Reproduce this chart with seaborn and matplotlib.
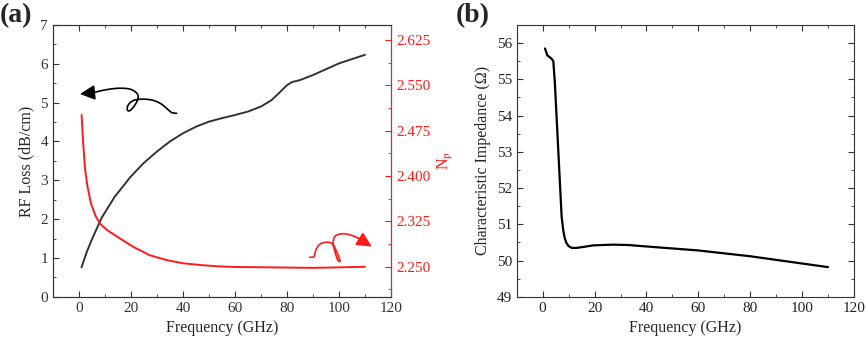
import numpy as np
import pandas as pd
import matplotlib
matplotlib.use("Agg")
import matplotlib.pyplot as plt
import seaborn as sns
from matplotlib.ticker import MultipleLocator

#---- data ----|

# panel (a): RF loss (left axis) and Np (right axis) vs frequency
freq_loss = [1, 3, 5, 8.7, 13.8, 20, 25, 30, 35, 40, 45, 50, 55, 60, 65, 70, 74, 77, 80, 82, 85, 90, 95, 100, 105, 110]
rf_loss = [0.76, 1.15, 1.48, 2.03, 2.58, 3.1, 3.45, 3.74, 4.0, 4.21, 4.38, 4.51, 4.6, 4.68, 4.77, 4.9, 5.06, 5.25, 5.45, 5.53, 5.58, 5.71, 5.86, 6.01, 6.12, 6.23]

freq_np = [1.04, 1.65, 2.4, 3.3, 4.6, 6.5, 8.4, 11.0, 15.7, 20.8, 27.2, 33.6, 40, 46.4, 53.4, 60, 70, 80, 90, 100, 110]
np_vals = [2.501, 2.454, 2.410, 2.383, 2.355, 2.333, 2.320, 2.310, 2.297, 2.283, 2.269, 2.261, 2.2556, 2.2528, 2.2505, 2.2495, 2.249, 2.2485, 2.248, 2.2488, 2.2498]

# panel (b): characteristic impedance vs frequency
freq_z = [0.9, 1.8, 3.4, 4.1, 4.7, 6.0, 7.3, 7.9, 8.5, 9.2, 10, 11.2, 13, 16, 19.5, 27, 33, 40, 60, 80, 110]
imp_z = [55.85, 55.66, 55.57, 55.50, 54.9, 53.06, 51.22, 50.85, 50.62, 50.48, 50.4, 50.35, 50.35, 50.38, 50.42, 50.44, 50.43, 50.39, 50.28, 50.12, 49.82]

# hand-drawn curly arrows (annotation only), in axes-fraction coords of panel (a)
black_arrow_x = [0.366, 0.351, 0.336, 0.317, 0.292, 0.262, 0.238, 0.223, 0.220, 0.228, 0.243, 0.252, 0.248, 0.228, 0.193, 0.154, 0.119]
black_arrow_y = [0.675, 0.678, 0.694, 0.712, 0.724, 0.727, 0.722, 0.706, 0.688, 0.685, 0.706, 0.731, 0.749, 0.764, 0.767, 0.761, 0.751]
black_tip = (0.080, 0.746)
red_arrow_x = [0.760, 0.772, 0.778, 0.790, 0.810, 0.826, 0.837, 0.847, 0.849, 0.842, 0.834, 0.829, 0.834, 0.854, 0.879, 0.903]
red_arrow_y = [0.146, 0.148, 0.173, 0.194, 0.201, 0.195, 0.173, 0.142, 0.130, 0.136, 0.167, 0.197, 0.222, 0.232, 0.228, 0.216]
red_tip = (0.943, 0.185)


def smooth(xs, ys, n=20):
    # catmull-rom through the sketch points so the squiggle looks hand drawn
    p = np.column_stack([xs, ys])
    p = np.vstack([p[0], p, p[-1]])
    out = []
    for i in range(1, len(p) - 2):
        p0, p1, p2, p3 = p[i - 1], p[i], p[i + 1], p[i + 2]
        for t in np.linspace(0, 1, n, endpoint=False):
            t2, t3 = t * t, t * t * t
            out.append(0.5 * ((2 * p1) + (-p0 + p2) * t + (2 * p0 - 5 * p1 + 4 * p2 - p3) * t2 + (-p0 + 3 * p1 - 3 * p2 + p3) * t3))
    out.append(p[-2])
    out = np.array(out)
    return out[:, 0], out[:, 1]


sns.set_style("ticks")
plt.rcParams['font.family'] = ['Liberation Serif', 'DejaVu Serif']
plt.rcParams['mathtext.fontset'] = 'stix'
plt.rcParams['xtick.direction'] = 'in'
plt.rcParams['ytick.direction'] = 'in'
plt.rcParams['font.size'] = 11

fig = plt.figure(figsize=(8.67, 3.46), dpi=100)
ax1 = fig.add_axes([0.061, 0.142, 0.390, 0.786])
ax2 = fig.add_axes([0.596, 0.142, 0.389, 0.786])

red = '#ff1a1a'
ax_color = '#333333'
head = '-|>,head_length=0.6,head_width=0.3'

#---- panel (a) ----|
df_loss = pd.DataFrame({'f': freq_loss, 'loss': rf_loss})
sns.lineplot(data=df_loss, x='f', y='loss', ax=ax1, color='#333333', lw=1.4)
ax1.set_xlim(-10, 120)
ax1.set_ylim(0, 7)
ax1.set_xlabel('Frequency (GHz)', fontsize=11.5)
ax1.set_ylabel('RF Loss (dB/cm)', fontsize=11.5, labelpad=4)
ax1.xaxis.set_major_locator(MultipleLocator(20))
ax1.xaxis.set_minor_locator(MultipleLocator(10))
ax1.yaxis.set_major_locator(MultipleLocator(1))
ax1.yaxis.set_minor_locator(MultipleLocator(0.5))
ax1.tick_params(which='both', top=True, right=False, labelsize=11, color=ax_color, labelcolor='#333333')
ax1.tick_params(which='major', length=4)
ax1.tick_params(which='minor', length=2.5)

bx, by = smooth(black_arrow_x, black_arrow_y)
ax1.plot(bx, by, color='black', lw=1.2, transform=ax1.transAxes)
ax1.annotate('', xy=black_tip, xytext=(black_arrow_x[-1], black_arrow_y[-1]),
             xycoords='axes fraction', textcoords='axes fraction',
             arrowprops=dict(arrowstyle=head, mutation_scale=15, color='black', lw=1.2, shrinkA=0, shrinkB=0))

rx, ry = smooth(red_arrow_x, red_arrow_y)
ax1.plot(rx, ry, color=red, lw=1.2, transform=ax1.transAxes)
ax1.annotate('', xy=red_tip, xytext=(red_arrow_x[-1], red_arrow_y[-1]),
             xycoords='axes fraction', textcoords='axes fraction',
             arrowprops=dict(arrowstyle=head, mutation_scale=15, color=red, lw=1.2, shrinkA=0, shrinkB=0))

ax1r = ax1.twinx()
df_np = pd.DataFrame({'f': freq_np, 'np': np_vals})
sns.lineplot(data=df_np, x='f', y='np', ax=ax1r, color=red, lw=1.4)
ax1r.set_ylim(2.2, 2.65)
ax1r.yaxis.set_minor_locator(MultipleLocator(0.0375))
ax1r.set_yticks([2.25, 2.325, 2.4, 2.475, 2.55, 2.625])
ax1r.set_yticklabels(['2.250', '2.325', '2.400', '2.475', '2.550', '2.625'])
ax1r.set_ylabel('N$_\\mathrm{p}$', color=red, fontsize=11.5, labelpad=4)
ax1r.tick_params(which='both', colors=red, labelsize=11, direction='in')
ax1r.tick_params(which='major', length=4)
ax1r.tick_params(which='minor', length=2.5)
for s in ax1.spines.values():
    s.set_color(ax_color)
for s in ['left', 'top', 'bottom']:
    ax1r.spines[s].set_color(ax_color)
ax1r.spines['right'].set_color(red)

#---- panel (b) ----|
df_z = pd.DataFrame({'f': freq_z, 'z': imp_z})
sns.lineplot(data=df_z, x='f', y='z', ax=ax2, color='black', lw=1.6)
ax2.set_xlim(-10, 120)
ax2.set_ylim(49, 56.5)
ax2.set_xlabel('Frequency (GHz)', fontsize=11.5)
ax2.set_ylabel('Characteristic Impedance (\u03a9)', fontsize=11.5, labelpad=4)
ax2.xaxis.set_major_locator(MultipleLocator(20))
ax2.xaxis.set_minor_locator(MultipleLocator(10))
ax2.yaxis.set_major_locator(MultipleLocator(1))
ax2.yaxis.set_minor_locator(MultipleLocator(0.5))
ax2.tick_params(which='both', top=True, right=True, labelsize=11, color=ax_color, labelcolor='#222222')
ax2.tick_params(which='major', length=4)
ax2.tick_params(which='minor', length=2.5)
for s in ax2.spines.values():
    s.set_color(ax_color)

fig.text(0.0, 0.935, '(a)', fontsize=20, fontweight='bold')
fig.text(0.526, 0.935, '(b)', fontsize=20, fontweight='bold')

fig.savefig('out.png', dpi=100)
